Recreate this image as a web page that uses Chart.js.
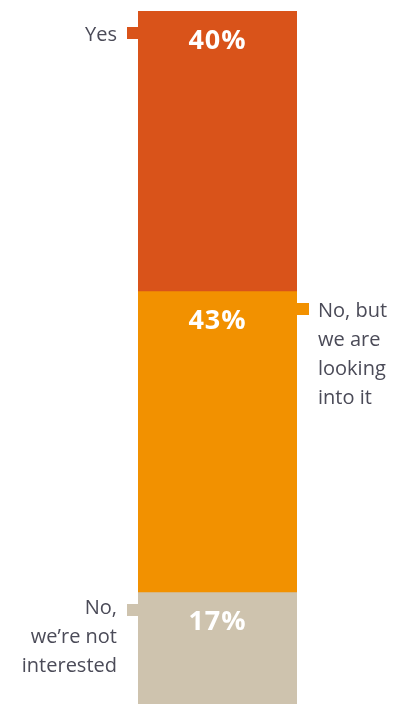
<!DOCTYPE html>
<html>
<head>
<meta charset="utf-8">
<script src="https://cdn.jsdelivr.net/npm/chart.js@4"></script>
<style>
  html, body { margin: 0; padding: 0; background: #fff; overflow: hidden; }
  #wrap { width: 398px; height: 711px; position: relative; }
</style>
</head>
<body>
<div id="wrap"><canvas id="chart"></canvas></div>
<script>
// --- Data ---
const answers = ["Yes", "No, but we are looking into it", "No, we\u2019re not interested"];
const answerLines = [["Yes"], ["No, but", "we are", "looking", "into it"], ["No,", "we\u2019re not", "interested"]];
const shares = [40, 43, 17];
const labelSides = ["left", "right", "left"];
const COLORS = ["#D9531A", "#F29100", "#CEC3AE"];
// first text line offset below each segment top (px)
const TEXT_OFFSETS = [24, 20, 16];
const MARKER_OFFSETS = [16, 12, 12];

// --- Labels + markers plugin ---
const answerLabels = {
  id: "answerLabels",
  afterDatasetsDraw(chart) {
    const ctx = chart.ctx;
    chart.data.datasets.forEach((ds, i) => {
      const bar = chart.getDatasetMeta(i).data[0];
      const p = bar.getProps(["x", "y", "base", "width"], true);
      const top = Math.min(p.y, p.base);
      const left = p.x - p.width / 2;
      const right = p.x + p.width / 2;

      // percent value inside the bar
      ctx.save();
      ctx.fillStyle = "#ffffff";
      ctx.font = "bold 27px 'Open Sans', sans-serif";
      ctx.letterSpacing = "1px";
      ctx.textAlign = "center";
      ctx.textBaseline = "middle";
      ctx.fillText(ds.data[0] + "%", p.x, top + 30);
      ctx.letterSpacing = "0px";

      // small square marker
      ctx.fillStyle = COLORS[i];
      const my = top + MARKER_OFFSETS[i];
      if (labelSides[i] === "left") ctx.fillRect(left - 11, my, 11, 12);
      else ctx.fillRect(right, my, 12, 12);

      // text label
      ctx.fillStyle = "#4B4B58";
      ctx.font = "20px 'Open Sans', sans-serif";
      ctx.textBaseline = "middle";
      answerLines[i].forEach((line, k) => {
        const ty = top + TEXT_OFFSETS[i] + k * 29;
        if (labelSides[i] === "left") {
          ctx.textAlign = "right";
          ctx.fillText(line, left - 21, ty);
        } else {
          ctx.textAlign = "left";
          ctx.fillText(line, right + 21, ty);
        }
      });
      ctx.restore();
    });
  },
};

new Chart(document.getElementById("chart"), {
  type: "bar",
  data: {
    labels: ["Answer"],
    datasets: answers.map((a, i) => ({
      label: a,
      data: [shares[i]],
      backgroundColor: COLORS[i],
      borderWidth: 0,
      barPercentage: 1,
      categoryPercentage: 1,
    })),
  },
  options: {
    responsive: true,
    maintainAspectRatio: false,
    animation: false,
    layout: { padding: { left: 138, right: 101, top: 11, bottom: 0 } },
    plugins: { legend: { display: false }, tooltip: { enabled: false } },
    scales: {
      x: { stacked: true, display: false },
      y: { stacked: true, display: false, reverse: true, min: 0, max: 100 },
    },
  },
  plugins: [answerLabels],
});
</script>
</body>
</html>
